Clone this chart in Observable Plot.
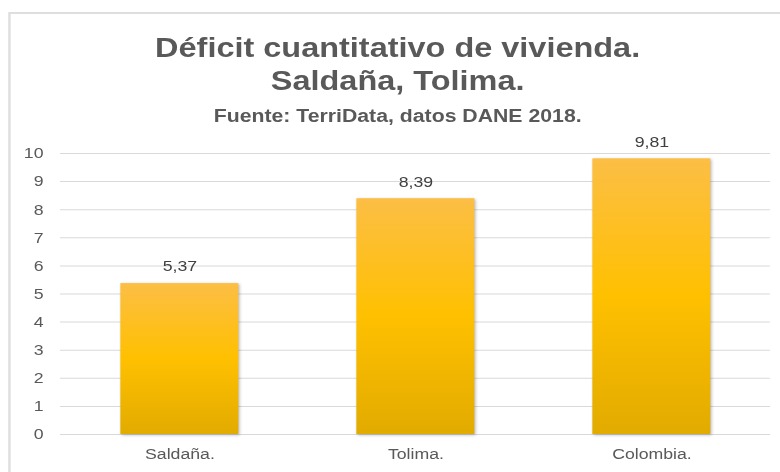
<!DOCTYPE html>
<html>
<head>
<meta charset="utf-8">
<script src="https://cdn.jsdelivr.net/npm/d3@7"></script>
<script src="https://cdn.jsdelivr.net/npm/@observablehq/plot@0.6"></script>
<style>
  html, body { margin: 0; padding: 0; background: #fff; }
  #page { position: relative; width: 780px; height: 472px; overflow: hidden; }
  #wrap {
    position: absolute; left: 0; top: 0; width: 661px; height: 472px;
    transform: scaleX(1.18); transform-origin: 0 0;
    font-family: "Liberation Sans", Arial, sans-serif;
  }
  #frame {
    position: absolute; left: 6.8px; top: 12px; width: 700px; height: 520px;
    border: 2px solid #dedede; box-sizing: border-box;
  }
  .t {
    position: absolute; left: 0; width: 674px; text-align: center;
    color: #595959; font-weight: bold; white-space: nowrap; line-height: 1;
  }
  #title1 { top: 34px; font-size: 27.5px; }
  #title2 { top: 67px; font-size: 27.5px; }
  #sub { top: 107px; font-size: 18px; }
  #chart { position: absolute; left: 0; top: 0; }
</style>
</head>
<body>
<div id="page">
  <div id="wrap">
    <div id="frame"></div>
    <div id="chart"></div>
    <div class="t" id="title1">Déficit cuantitativo de vivienda.</div>
    <div class="t" id="title2">Saldaña, Tolima.</div>
    <div class="t" id="sub">Fuente: TerriData, datos DANE 2018.</div>
  </div>
</div>
<script>
const categories = ["Saldaña.", "Tolima.", "Colombia."];
const values = [5.37, 8.39, 9.81];
const yTicks = [0, 1, 2, 3, 4, 5, 6, 7, 8, 9, 10];

const data = categories.map((c, i) => ({category: c, value: values[i]}));
const fmt = v => v.toFixed(2).replace(".", ",");

const chart = Plot.plot({
  width: 661,
  height: 472,
  marginLeft: 50.8,
  marginRight: 8.5,
  marginTop: 153,
  marginBottom: 38,
  style: {
    fontFamily: "'Liberation Sans', Arial, sans-serif",
    fontSize: "15px",
    color: "#595959",
    background: "transparent",
    overflow: "visible"
  },
  x: {domain: categories, paddingInner: 0.5, paddingOuter: 0.25, label: null, tickSize: 0, tickPadding: 13.5},
  y: {domain: [0, 10], ticks: yTicks, label: null, tickSize: 0, tickPadding: 14.4, tickFormat: d => String(d)},
  marks: [
    Plot.ruleY(yTicks, {stroke: "#d9d9d9", strokeWidth: 1}),
    Plot.barY(data, {x: "category", y: "value", fill: "url(#barGrad)"}),
    Plot.text(data, {x: "category", y: "value", text: d => fmt(d.value), dy: -17, fill: "#404040", fontSize: 15})
  ]
});

document.getElementById("chart").appendChild(chart);

const svg = d3.select(chart);
const defs = svg.insert("defs", ":first-child");
const grad = defs.append("linearGradient")
  .attr("id", "barGrad").attr("x1", 0).attr("y1", 0).attr("x2", 0).attr("y2", 1);
grad.append("stop").attr("offset", "0%").attr("stop-color", "#FCBE45");
grad.append("stop").attr("offset", "50%").attr("stop-color", "#FFC000");
grad.append("stop").attr("offset", "100%").attr("stop-color", "#E2AB00");
svg.selectAll("g[aria-label='bar']").style("filter", "drop-shadow(1px 1px 1.5px rgba(0,0,0,0.28))");
</script>
</body>
</html>
